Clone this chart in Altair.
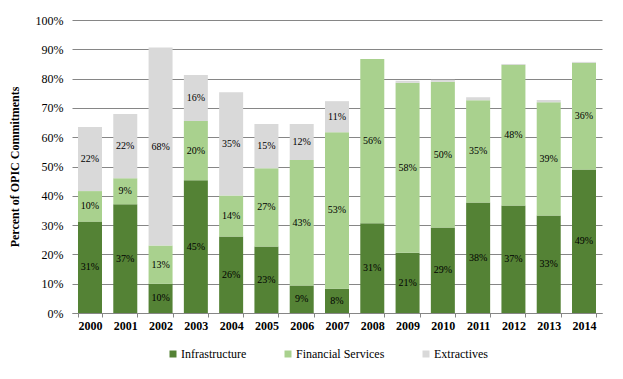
import altair as alt
import pandas as pd

years = [str(y) for y in range(2000, 2015)]
infrastructure = [31.2, 37.1, 10.0, 45.3, 26.1, 22.7, 9.4, 8.3, 30.6, 20.6, 29.2, 37.7, 36.7, 33.3, 49.0]
financial = [10.4, 8.9, 13.0, 20.2, 14.0, 26.7, 42.8, 53.4, 56.1, 58.0, 49.7, 34.9, 48.0, 38.6, 36.4]
extractives = [21.9, 21.9, 67.6, 15.7, 35.2, 15.1, 12.3, 10.6, 0.0, 0.7, 0.7, 1.0, 0.3, 0.8, 0.3]
sectors = ["Infrastructure", "Financial Services", "Extractives"]
colors = ["#548235", "#A9D18E", "#D9D9D9"]
y_ticks = [i / 10 for i in range(11)]

rows = []
for i, y in enumerate(years):
    for k, (s, vals) in enumerate(zip(sectors, [infrastructure, financial, extractives])):
        rows.append({"year": y, "sector": s, "idx": k, "value": vals[i] / 100.0})
df = pd.DataFrame(rows)

FONT = "'Times New Roman', 'Liberation Serif', 'DejaVu Serif', serif"

base = alt.Chart(df).transform_stack(
    stack="value", groupby=["year"], as_=["y0", "y1"], sort=[alt.SortField("idx", order="ascending")]
).transform_calculate(mid="(datum.y0 + datum.y1) / 2")

xaxis = alt.Axis(labelFont=FONT, labelFontWeight="bold", labelFontSize=12, labelColor="black",
                 labelAngle=0, domainColor="#868686", tickColor="#868686", tickSize=4,
                 tickBand="extent", labelPadding=3, grid=False)
xscale = alt.Scale(paddingInner=0.32, paddingOuter=0.17)
yscale = alt.Scale(domain=[0, 1])
yaxis = alt.Axis(format=".0%", values=y_ticks, labelFont=FONT,
                 labelFontSize=12, labelColor="black", titleFont=FONT, titleFontSize=12,
                 titleFontWeight="bold", titleColor="black", domain=False, ticks=False,
                 grid=True, gridColor="#868686", gridWidth=1, labelPadding=9, titlePadding=14)
YTITLE = "Percent of OPIC Commitments"

bars = base.mark_bar().encode(
    x=alt.X("year:N", title=None, sort=years, scale=xscale, axis=xaxis),
    y=alt.Y("y0:Q", title=YTITLE, scale=yscale, axis=yaxis),
    y2="y1:Q",
    color=alt.Color("sector:N", scale=alt.Scale(domain=sectors, range=colors),
                    legend=alt.Legend(title=None, orient="none", direction="horizontal",
                                      legendX=95, legendY=328, symbolType="square", symbolSize=49,
                                      symbolStrokeWidth=0, labelFont=FONT, labelFontSize=12,
                                      labelColor="black", columnPadding=35, labelOffset=2)),
)

labels = base.transform_filter("datum.value >= 0.05").mark_text(
    font=FONT, fontSize=10, color="black", baseline="middle"
).encode(
    x=alt.X("year:N", title=None, sort=years, scale=xscale, axis=xaxis),
    y=alt.Y("mid:Q", title=YTITLE, scale=yscale, axis=yaxis),
    text=alt.Text("value:Q", format=".0%"),
)

chart = alt.layer(bars, labels).properties(
    width=530, height=293,
    autosize=alt.AutoSizeParams(type="none"),
    padding={"left": 64, "top": 12, "right": 13, "bottom": 58},
).configure(font=FONT).configure_view(stroke=None)

chart.save("out.html", embed_options={"renderer": "svg", "actions": False})
